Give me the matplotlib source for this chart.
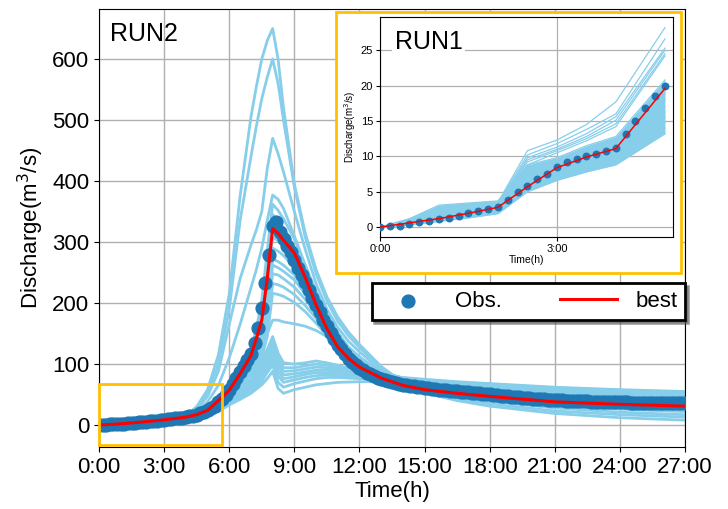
import numpy as np
import matplotlib.pyplot as plt
from matplotlib.patches import Rectangle

plt.rcParams['font.family'] = ['Liberation Sans', 'DejaVu Sans']

# ---------------- RUN2 (main) ----------------
# observed discharge, 10-min steps from 0:00 to 27:00 (one row per hour)
obs_q = [
    0, 0.3, 0.6, 0.9, 1.2, 1.6,
    2.0, 2.4, 2.8, 3.2, 3.7, 4.2,
    4.8, 5.4, 6.0, 6.6, 7.2, 7.8,
    8.5, 9.2, 10.0, 10.8, 11.6, 12.3,
    13.0, 14.2, 15.5, 17.0, 19.0, 21.5,
    24.5, 28, 32, 37, 43, 50,
    58, 67, 77, 87, 97, 106,
    116, 134, 159, 192, 233, 279,
    326, 333, 317, 305, 294, 283,
    271, 258, 246, 234, 221, 209,
    197, 185, 173, 162, 151, 141,
    132, 124, 116, 109, 103, 98,
    94, 90, 86, 83, 80, 77.5,
    75.5, 73.5, 72, 70.5, 69, 67.5,
    66.3, 65.2, 64.2, 63.3, 62.4, 61.6,
    60.8, 60.1, 59.4, 58.7, 58.1, 57.5,
    56.9, 56.3, 55.7, 55.1, 54.6, 54.1,
    53.6, 53.1, 52.6, 52.1, 51.6, 51.1,
    50.5, 49.8, 49.1, 48.4, 47.7, 47.0,
    46.4, 45.8, 45.2, 44.7, 44.2, 43.7,
    43.2, 42.8, 42.4, 42.0, 41.6, 41.3,
    41.0, 40.7, 40.4, 40.1, 39.8, 39.5,
    39.3, 39.1, 38.9, 38.7, 38.5, 38.3,
    38.1, 37.9, 37.7, 37.5, 37.4, 37.3,
    37.2, 37.1, 37.0, 36.9, 36.8, 36.7,
    36.6, 36.5, 36.4, 36.3, 36.2, 36.1,
    36.0, 35.9, 35.8, 35.7, 35.6, 35.5,
    35.4,
]
obs_t = np.arange(len(obs_q)) / 6.0

# simulation output times (h)
t_sim = [0, 1, 2, 3, 4, 4.5, 5, 5.5, 6, 6.5, 7, 7.25, 7.5, 7.75, 8, 8.25,
         8.5, 9, 9.5, 10, 10.5, 11, 11.5, 12, 13, 14, 15, 16.5, 18, 21, 24, 27]

best_q = [0, 2, 5, 8.5, 13, 17, 24, 40, 57, 84, 114, 142, 172, 240, 322, 314,
          303, 282, 242, 197, 158, 128, 109, 95, 77, 65, 58, 52, 47, 38, 34, 31]

sim_a1 = [0, 2, 5, 9, 16, 30, 58, 115, 215, 375, 505, 555, 600, 630, 650, 600,
          520, 395, 315, 255, 210, 177, 152, 132, 96, 70, 53, 40, 31, 19, 12, 8]
sim_a2 = [0, 2, 5, 9, 15, 27, 52, 100, 190, 335, 440, 490, 535, 570, 600, 560,
          500, 390, 308, 248, 203, 170, 146, 127, 93, 70, 55, 43, 35, 23, 17, 13]
sim_a3 = [0, 2, 5, 9, 14, 25, 47, 88, 165, 240, 295, 320, 350, 420, 470, 445,
          415, 350, 288, 232, 190, 160, 137, 120, 90, 70, 57, 46, 39, 28, 21, 17]
sim_a4 = [0, 2, 5, 9, 13, 22, 38, 65, 110, 165, 225, 255, 290, 335, 377, 370,
          355, 310, 262, 215, 178, 150, 128, 112, 87, 71, 60, 50, 44, 33, 26, 22]
sim_b1 = [0, 2, 5, 8.5, 13, 17, 25, 38, 60, 90, 122, 158, 205, 285, 362, 352,
          338, 305, 262, 220, 183, 152, 127, 108, 85, 72, 64, 56, 50, 40, 35, 31]
sim_b2 = [0, 2, 5, 8.5, 13, 17, 24, 37, 58, 87, 118, 150, 195, 272, 345, 336,
          322, 292, 252, 212, 176, 146, 122, 104, 82, 70, 62, 55, 49, 40, 35, 32]
sim_b3 = [0, 2, 5, 8.5, 13, 17, 24, 36, 56, 84, 112, 140, 180, 255, 330, 322,
          310, 282, 245, 206, 172, 142, 119, 102, 81, 69, 61, 54, 48, 40, 35, 32]
sim_b4 = [0, 2, 5, 8.5, 13, 16.5, 23, 35, 54, 80, 106, 130, 165, 235, 308, 302,
          292, 268, 235, 200, 168, 140, 118, 101, 81, 70, 62, 55, 50, 42, 37, 34]
sim_b5 = [0, 2, 5, 8.5, 13, 16.5, 23, 34, 52, 77, 102, 122, 152, 218, 290, 285,
          278, 258, 228, 196, 166, 139, 118, 102, 83, 72, 64, 57, 52, 45, 40, 37]
sim_b6 = [0, 2, 5, 8.5, 13, 16.5, 22, 33, 50, 74, 98, 116, 142, 200, 272, 268,
          262, 246, 220, 191, 163, 138, 118, 103, 85, 74, 66, 59, 54, 47, 42, 39]
sim_m1 = [0, 2, 5, 8.5, 13, 16, 22, 32, 48, 70, 93, 110, 132, 180, 262, 258,
          252, 238, 215, 188, 160, 137, 118, 104, 86, 75, 67, 60, 55, 48, 44, 41]
sim_m2 = [0, 2, 5, 8.5, 13, 16, 21, 31, 46, 67, 89, 104, 124, 168, 248, 246,
          240, 226, 206, 182, 157, 135, 117, 104, 87, 76, 68, 61, 56, 50, 46, 43]
sim_m3 = [0, 2, 5, 8.5, 12.5, 16, 21, 30, 45, 65, 85, 99, 116, 155, 232, 230,
          226, 214, 196, 175, 152, 132, 115, 103, 87, 77, 69, 62, 57, 51, 47, 44]
sim_m4 = [0, 2, 5, 8.5, 12.5, 15.5, 20, 29, 43, 62, 82, 94, 110, 145, 216, 214,
          211, 201, 186, 167, 147, 129, 113, 102, 87, 77, 70, 63, 58, 52, 48, 45]
sim_f1 = [0, 2, 5, 8.5, 12.5, 15.5, 20, 28, 42, 58, 75, 90, 118, 150, 172, 172,
          169, 166, 162, 155, 145, 130, 114, 102, 86, 76, 69, 63, 58, 52, 48, 46]
sim_l1 = [0, 2, 5, 8, 12, 15, 19, 27, 40, 55, 72, 86, 104, 124, 145, 118,
          102, 100, 102, 105, 102, 98, 93, 88, 82, 78, 75, 71, 68, 62, 58, 55]
sim_l2 = [0, 2, 5, 8, 12, 15, 19, 26, 39, 53, 69, 82, 99, 118, 138, 110,
          94, 94, 97, 100, 98, 94, 90, 86, 81, 77, 74, 70, 67, 61, 57, 54]
sim_l3 = [0, 2, 5, 8, 12, 14.5, 18, 25, 38, 51, 66, 78, 94, 112, 130, 102,
          88, 89, 92, 95, 94, 91, 87, 84, 79, 76, 73, 69, 66, 60, 56, 53]
sim_l4 = [0, 2, 5, 8, 12, 14.5, 18, 25, 37, 49, 63, 74, 88, 105, 122, 96,
          82, 84, 87, 90, 90, 88, 85, 82, 78, 75, 72, 68, 65, 59, 55, 52]
sim_l5 = [0, 2, 5, 8, 11.5, 14, 17.5, 24, 36, 47, 60, 70, 82, 98, 114, 88,
          76, 79, 83, 86, 86, 85, 83, 80, 77, 74, 71, 67, 64, 58, 54, 51]
sim_l6 = [0, 2, 5, 8, 11.5, 14, 17, 23, 35, 45, 57, 66, 77, 92, 106, 80,
          70, 74, 78, 81, 82, 81, 80, 78, 75, 72, 70, 66, 63, 57, 53, 50]
sim_l7 = [0, 2, 5, 8, 11.5, 14, 17, 23, 34, 44, 55, 63, 72, 86, 98, 70,
          62, 68, 72, 76, 78, 78, 77, 76, 74, 71, 69, 65, 62, 56, 52, 49]
sim_l8 = [0, 2, 5, 8, 11, 13.5, 16.5, 22, 33, 42, 52, 59, 66, 76, 88, 60,
          52, 58, 62, 66, 68, 70, 70.5, 71, 71, 70, 68, 64, 61, 55, 51, 48]

sims_run2 = [sim_a1, sim_a2, sim_a3, sim_a4, sim_b1, sim_b2, sim_b3, sim_b4,
             sim_b5, sim_b6, sim_m1, sim_m2, sim_m3, sim_m4, sim_f1, sim_l1,
             sim_l2, sim_l3, sim_l4, sim_l5, sim_l6, sim_l7, sim_l8]

# ---------------- RUN1 (inset) ----------------
obs1_q = [0, 0.1, 0.2, 0.47, 0.66, 0.85,
          1.13, 1.32, 1.6, 1.98, 2.26, 2.55,
          2.88, 3.9, 4.9, 5.75, 6.75, 7.55,
          8.5, 9.15, 9.6, 10.0, 10.4, 10.75,
          11.2, 13.1, 15.05, 16.8, 18.5, 19.9]
obs1_t = np.arange(len(obs1_q)) / 6.0

t_sim1 = [0, 0.5, 1, 1.5, 2, 2.5, 3, 3.5, 4, 4.833]
best1_q = [0, 0.6, 1.2, 1.95, 2.8, 5.7, 8.4, 9.9, 11.1, 19.6]

core1 = [
    [0, 1.2, 3.1, 3.4, 3.7, 8.8, 9.8, 11.5, 12.8, 20.8],
    [0, 1.1, 2.9, 3.3, 3.6, 8.5, 9.6, 11.2, 12.5, 20.0],
    [0, 1.0, 2.6, 3.1, 3.5, 8.0, 9.3, 10.8, 12.1, 19.0],
    [0, 0.9, 2.3, 2.9, 3.3, 7.6, 9.0, 10.5, 11.7, 18.0],
    [0, 0.8, 2.0, 2.7, 3.1, 7.2, 8.6, 10.1, 11.3, 17.0],
    [0, 0.7, 1.8, 2.4, 2.9, 6.8, 8.3, 9.7, 10.9, 16.2],
    [0, 0.6, 1.5, 2.1, 2.6, 6.3, 7.9, 9.3, 10.4, 15.5],
    [0, 0.5, 1.3, 1.9, 2.4, 5.9, 7.5, 8.8, 9.9, 14.8],
    [0, 0.4, 1.1, 1.6, 2.1, 5.4, 7.0, 8.3, 9.3, 14.0],
    [0, 0.3, 0.8, 1.3, 1.9, 5.0, 6.6, 7.8, 8.8, 13.2],
]
outer1 = [
    [0, 0.8, 2.2, 2.8, 3.5, 10.8, 12.3, 14.5, 17.7, 28.2],
    [0, 0.8, 2.1, 2.7, 3.4, 10.2, 11.8, 13.8, 16.0, 26.6],
    [0, 0.7, 2.0, 2.6, 3.3, 9.8, 11.3, 13.2, 15.6, 25.3],
    [0, 0.7, 2.0, 2.6, 3.2, 9.5, 11.0, 12.8, 15.1, 25.0],
    [0, 0.7, 1.9, 2.5, 3.1, 9.2, 10.8, 12.5, 14.6, 24.5],
    [0, 0.6, 1.9, 2.5, 3.0, 8.8, 10.5, 12.2, 14.2, 24.2],
]

sim_color = 'skyblue'
obs_color = '#1f77b4'
box_color = '#FFC000'

fig = plt.figure(figsize=(7.28, 5.09), dpi=100)
ax = fig.add_axes([0.136, 0.1218, 0.805, 0.8605])

for q in sims_run2:
    ax.plot(t_sim, q, color=sim_color, lw=2, zorder=2)
ax.scatter(obs_t, obs_q, s=85, color=obs_color, zorder=3, label='Obs.')
ax.plot(t_sim, best_q, color='red', lw=2.2, zorder=4, label='best')

ax.add_patch(Rectangle((0, -33), 5.67, 100, fill=False, edgecolor=box_color,
                       lw=2, clip_on=False, zorder=6))

ax.set_xlim(0, 27)
ax.set_ylim(-36, 682)
ax.set_xticks(range(0, 28, 3))
ax.set_xticklabels([f'{h}:00' for h in range(0, 28, 3)])
ax.set_yticks(range(0, 700, 100))
ax.tick_params(labelsize=16)
ax.set_xlabel('Time(h)', fontsize=16, labelpad=2)
ax.set_ylabel('Discharge(m$^3$/s)', fontsize=16, labelpad=4)
ax.grid(True, color='#b0b0b0', lw=1)
ax.set_axisbelow(True)
ax.text(0.019, 0.97, 'RUN2', transform=ax.transAxes, fontsize=18,
        va='top', ha='left')

leg = ax.legend(loc='upper right', bbox_to_anchor=(1.0, 0.374), ncol=2,
                fontsize=16, fancybox=False, shadow=True, framealpha=1,
                edgecolor='black', borderaxespad=0, columnspacing=2.6,
                handlelength=2.6, scatterpoints=1, borderpad=0.35)
leg.get_frame().set_linewidth(2)

# frame around the inset
fig.add_artist(Rectangle((0.4615, 0.4637), 0.4739, 0.5128,
                         transform=fig.transFigure, facecolor='white',
                         edgecolor=box_color, lw=2, zorder=2))

axin = fig.add_axes([0.522, 0.5344, 0.4025, 0.4322], zorder=3)
core_arr = np.array(core1)
axin.fill_between(t_sim1, core_arr.min(axis=0), core_arr.max(axis=0),
                  color=sim_color, lw=0, zorder=2)
for q in core1 + outer1:
    axin.plot(t_sim1, q, color=sim_color, lw=0.9, zorder=2)
axin.scatter(obs1_t, obs1_q, s=22, color=obs_color, zorder=3)
axin.plot(t_sim1, best1_q, color='red', lw=1.1, zorder=4)
axin.set_xlim(0, 4.97)
axin.set_ylim(-1.4, 29.7)
axin.set_xticks([0, 3])
axin.set_xticklabels(['0:00', '3:00'])
axin.set_yticks(range(0, 30, 5))
axin.tick_params(labelsize=8, length=3, pad=2)
axin.set_xlabel('Time(h)', fontsize=7.5, labelpad=1)
axin.set_ylabel('Discharge(m$^3$/s)', fontsize=7, labelpad=2)
axin.grid(True, color='#b0b0b0', lw=0.9)
axin.set_axisbelow(True)
axin.text(0.05, 0.94, 'RUN1', transform=axin.transAxes, fontsize=18,
          va='top', ha='left', zorder=5,
          bbox=dict(facecolor='white', edgecolor='none', pad=2))

fig.savefig('out.png', dpi=100)
